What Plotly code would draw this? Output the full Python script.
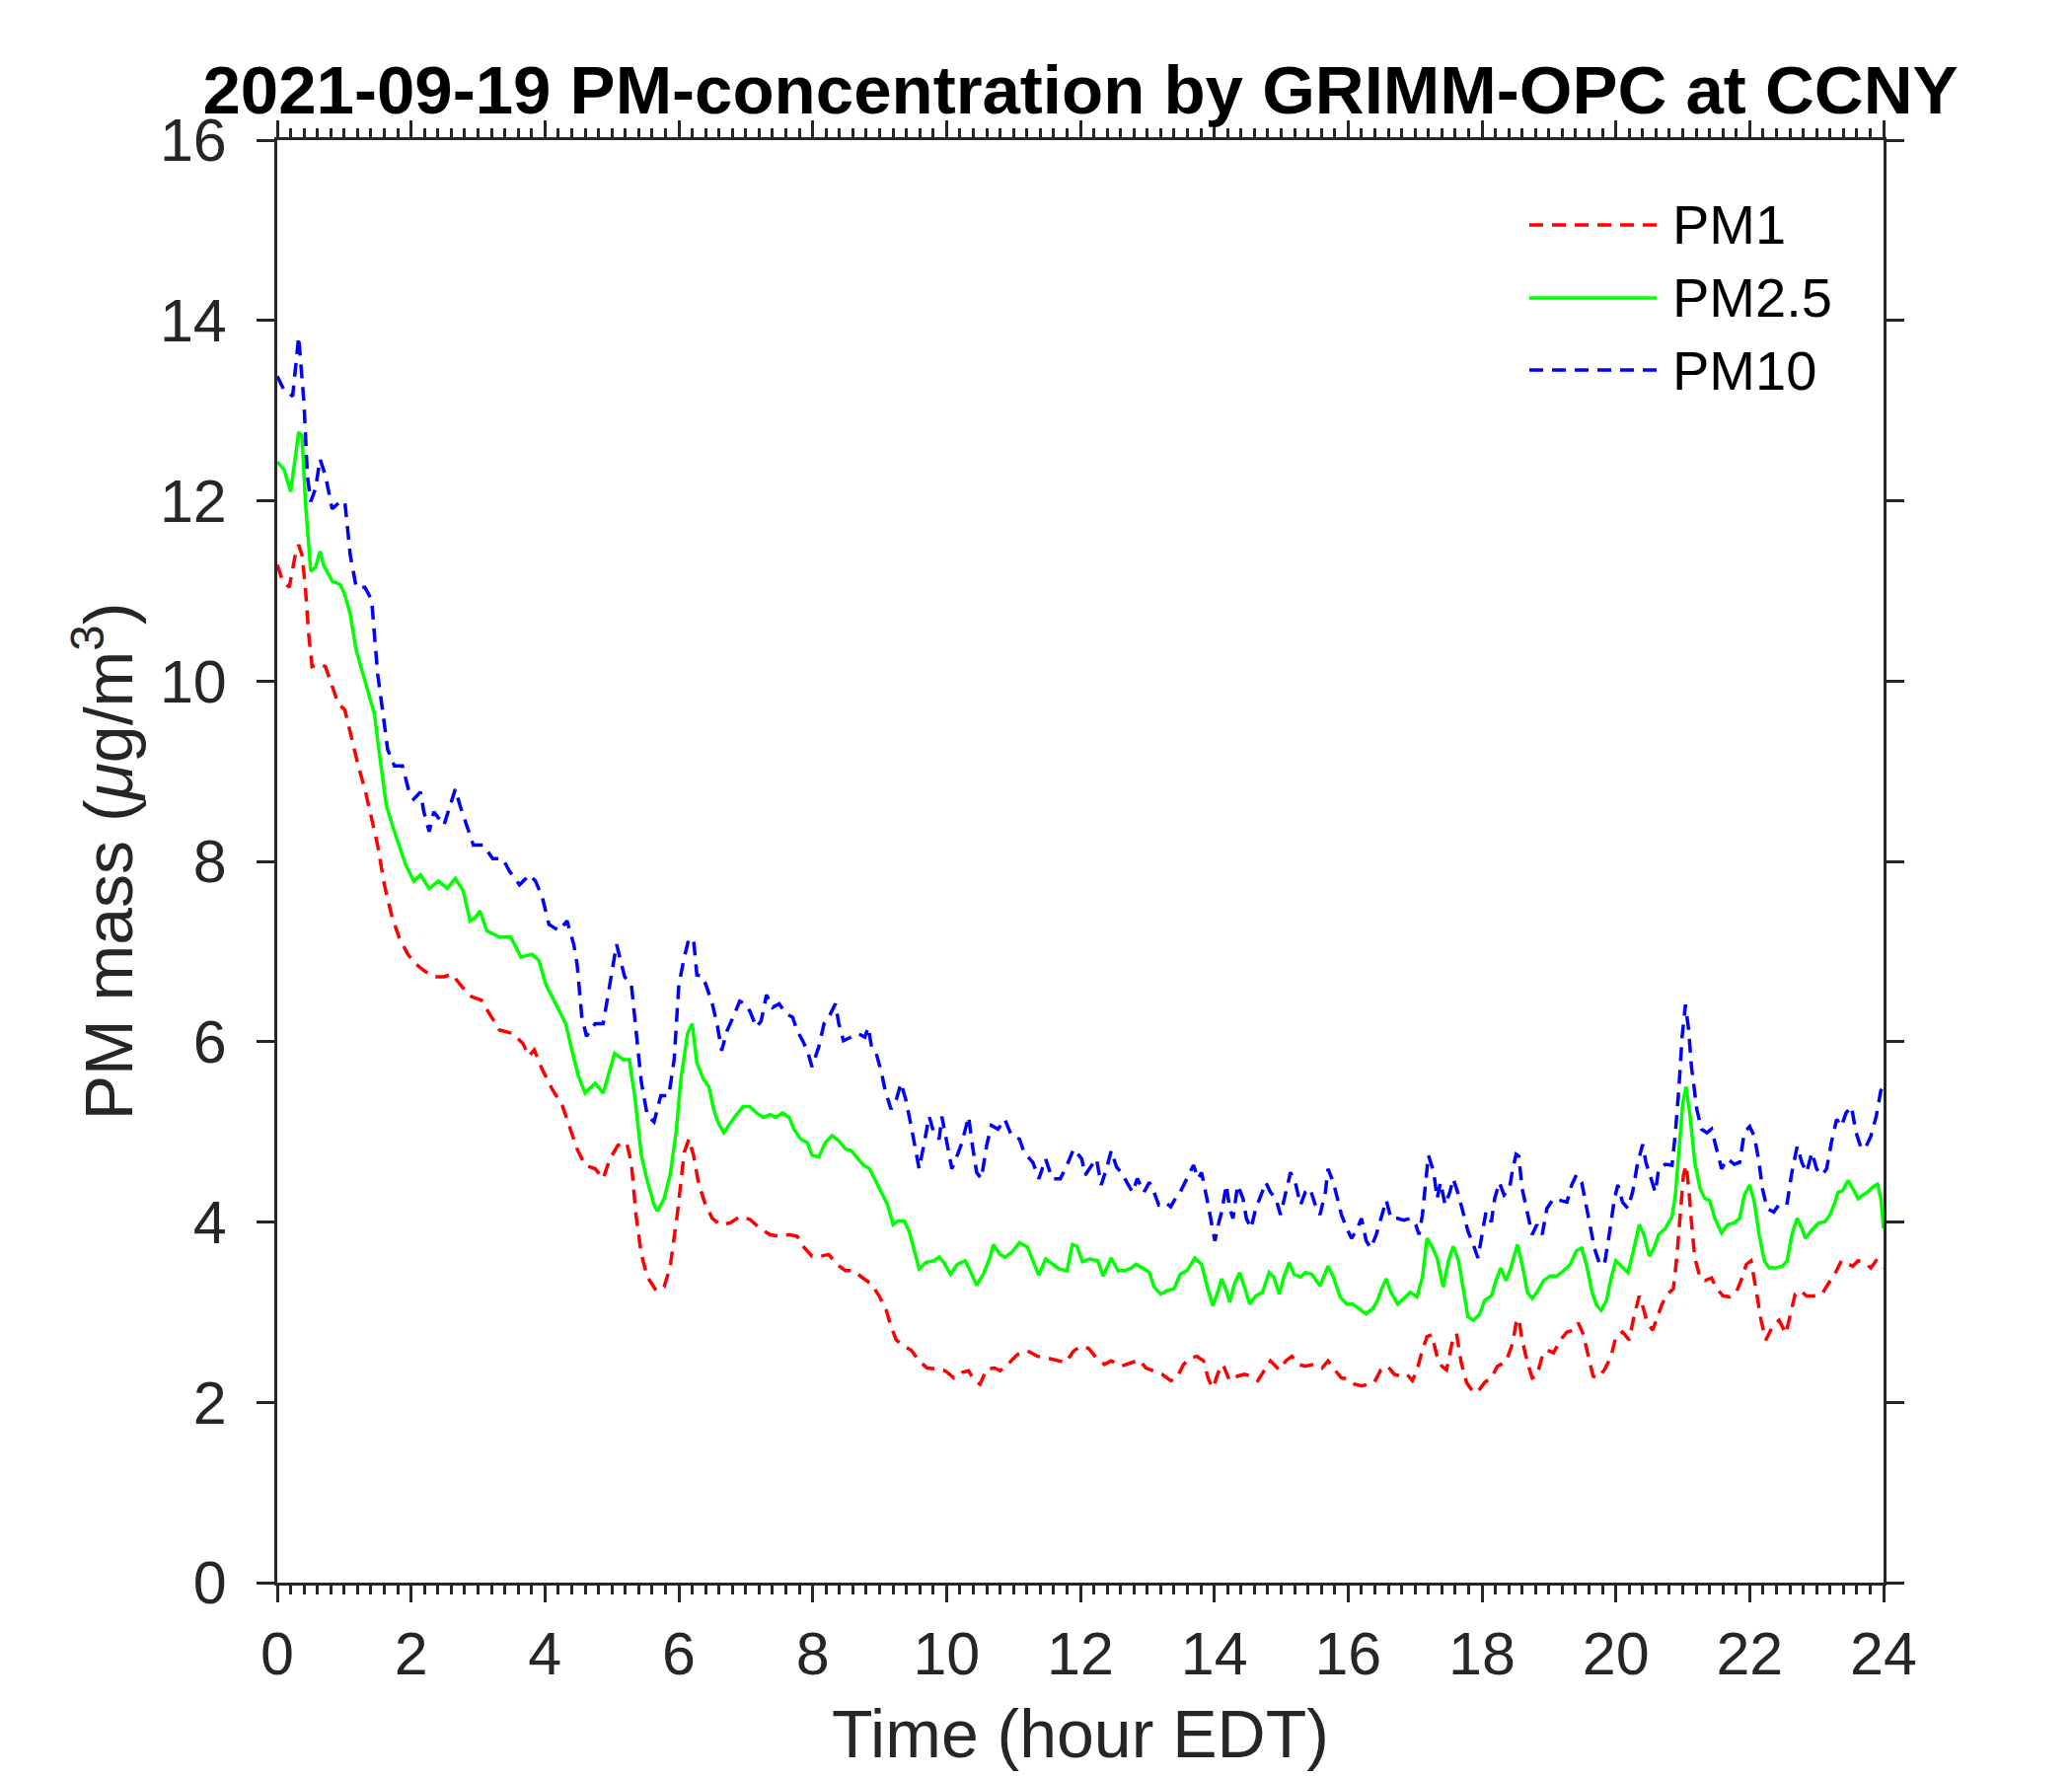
import plotly.graph_objects as go

# ---------------- data (hours EDT, ug/m3) ----------------
pm1_t = [0, 0.08, 0.18, 0.28, 0.32, 0.37, 0.42, 0.47, 0.52, 0.62, 0.72, 0.82, 0.91, 1.01, 1.11, 1.21, 1.31, 1.41, 1.5, 1.6,
         1.72, 1.82, 1.95, 2.07, 2.19, 2.34, 2.49, 2.61, 2.76, 2.9, 3.05, 3.17, 3.32, 3.52, 3.67, 3.76, 3.84, 3.96, 4.11, 4.26,
         4.38, 4.48, 4.6, 4.75, 4.87, 4.97, 5.09, 5.22, 5.29, 5.36, 5.44, 5.53, 5.66, 5.78, 5.87, 5.98, 6.08, 6.15, 6.22, 6.3,
         6.4, 6.5, 6.62, 6.77, 6.91, 7.06, 7.21, 7.36, 7.5, 7.65, 7.77, 7.87, 7.99, 8.12, 8.24, 8.36, 8.49, 8.61, 8.73, 8.88,
         9.0, 9.1, 9.17, 9.25, 9.37, 9.47, 9.59, 9.71, 9.86, 9.98, 10.11, 10.23, 10.33, 10.4, 10.5, 10.6, 10.72, 10.8, 10.94, 11.06,
         11.21, 11.36, 11.51, 11.65, 11.78, 11.9, 12.0, 12.12, 12.22, 12.36, 12.46, 12.61, 12.76, 12.88, 12.98, 13.1, 13.22, 13.35, 13.44, 13.54,
         13.64, 13.74, 13.84, 13.91, 13.98, 14.06, 14.13, 14.23, 14.35, 14.45, 14.55, 14.65, 14.75, 14.84, 14.97, 15.07, 15.16, 15.26, 15.36, 15.48,
         15.61, 15.7, 15.8, 15.9, 16.0, 16.1, 16.2, 16.29, 16.39, 16.49, 16.59, 16.69, 16.79, 16.88, 16.96, 17.03, 17.11, 17.18, 17.25, 17.33,
         17.4, 17.47, 17.55, 17.62, 17.69, 17.77, 17.87, 17.94, 18.04, 18.14, 18.23, 18.36, 18.46, 18.51, 18.55, 18.6, 18.68, 18.75, 18.82, 18.9,
         18.97, 19.07, 19.17, 19.27, 19.37, 19.44, 19.51, 19.59, 19.66, 19.73, 19.83, 19.93, 20.0, 20.1, 20.2, 20.27, 20.35, 20.42, 20.47, 20.55,
         20.62, 20.69, 20.77, 20.86, 20.91, 20.96, 21.01, 21.05, 21.09, 21.13, 21.18, 21.26, 21.33, 21.43, 21.5, 21.6, 21.7, 21.8, 21.87, 21.95,
         22.02, 22.09, 22.17, 22.24, 22.34, 22.44, 22.54, 22.61, 22.68, 22.76, 22.85, 22.95, 23.08, 23.17, 23.27, 23.37, 23.47, 23.54, 23.62, 23.71,
         23.81, 23.89, 23.96, 24.0]
pm1_v = [11.29, 11.11, 11.04, 11.44, 11.51, 11.4, 11.04, 10.52, 10.16, 10.19, 10.16, 9.94, 9.75, 9.68, 9.35, 9.06, 8.8, 8.47, 8.18, 7.74,
         7.37, 7.16, 6.97, 6.86, 6.79, 6.72, 6.72, 6.75, 6.61, 6.5, 6.46, 6.31, 6.13, 6.09, 5.98, 5.84, 5.91, 5.69, 5.47, 5.29,
         5.03, 4.81, 4.63, 4.59, 4.48, 4.7, 4.85, 4.88, 4.66, 4.08, 3.64, 3.39, 3.24, 3.28, 3.5, 4.1, 4.77, 4.92, 4.74, 4.41,
         4.19, 4.04, 3.97, 3.99, 4.06, 4.03, 3.93, 3.86, 3.84, 3.86, 3.84, 3.72, 3.62, 3.62, 3.64, 3.53, 3.46, 3.46, 3.39, 3.31,
         3.17, 3.02, 2.84, 2.69, 2.62, 2.58, 2.46, 2.38, 2.37, 2.35, 2.27, 2.33, 2.35, 2.26, 2.2, 2.37, 2.38, 2.35, 2.44, 2.53,
         2.57, 2.51, 2.49, 2.46, 2.44, 2.57, 2.62, 2.6, 2.51, 2.42, 2.46, 2.4, 2.44, 2.47, 2.38, 2.35, 2.31, 2.24, 2.27, 2.42,
         2.49, 2.51, 2.46, 2.26, 2.16, 2.33, 2.42, 2.24, 2.29, 2.31, 2.29, 2.24, 2.35, 2.46, 2.36, 2.46, 2.51, 2.42, 2.4, 2.42,
         2.38, 2.46, 2.36, 2.27, 2.26, 2.2, 2.18, 2.2, 2.22, 2.36, 2.4, 2.31, 2.29, 2.31, 2.24, 2.36, 2.58, 2.73, 2.75, 2.51,
         2.4, 2.36, 2.65, 2.76, 2.44, 2.22, 2.11, 2.12, 2.22, 2.27, 2.4, 2.45, 2.66, 2.88, 2.93, 2.69, 2.44, 2.27, 2.29, 2.51,
         2.58, 2.55, 2.69, 2.78, 2.8, 2.88, 2.76, 2.51, 2.29, 2.27, 2.36, 2.51, 2.73, 2.78, 2.69, 2.95, 3.18, 3.02, 2.88, 2.8,
         2.95, 3.09, 3.2, 3.26, 3.6, 4.08, 4.52, 4.63, 4.37, 4.0, 3.6, 3.38, 3.35, 3.38, 3.27, 3.18, 3.17, 3.22, 3.35, 3.53,
         3.57, 3.27, 2.91, 2.69, 2.84, 2.91, 2.76, 2.98, 3.2, 3.24, 3.18, 3.18, 3.2, 3.31, 3.42, 3.57, 3.53, 3.51, 3.57, 3.55,
         3.49, 3.57, 3.53, 3.49]

pm25_t = [0, 0.1, 0.2, 0.32, 0.37, 0.42, 0.5, 0.57, 0.64, 0.69, 0.82, 0.94, 1.01, 1.09, 1.18, 1.28, 1.36, 1.45, 1.55, 1.63,
          1.72, 1.82, 1.92, 2.04, 2.14, 2.27, 2.41, 2.54, 2.66, 2.78, 2.88, 2.95, 3.03, 3.13, 3.32, 3.49, 3.64, 3.81, 3.91, 4.01,
          4.16, 4.31, 4.4, 4.5, 4.6, 4.75, 4.87, 4.94, 5.04, 5.17, 5.26, 5.34, 5.44, 5.53, 5.63, 5.68, 5.78, 5.87, 5.96, 6.03,
          6.13, 6.2, 6.27, 6.37, 6.45, 6.52, 6.59, 6.67, 6.77, 6.84, 6.96, 7.06, 7.16, 7.26, 7.36, 7.45, 7.55, 7.65, 7.72, 7.82,
          7.92, 7.99, 8.09, 8.19, 8.29, 8.39, 8.49, 8.58, 8.68, 8.76, 8.85, 8.95, 9.05, 9.12, 9.2, 9.27, 9.37, 9.44, 9.52, 9.59,
          9.69, 9.81, 9.89, 9.96, 10.06, 10.16, 10.28, 10.35, 10.45, 10.55, 10.65, 10.7, 10.8, 10.87, 10.97, 11.09, 11.21, 11.31, 11.38, 11.48,
          11.58, 11.68, 11.8, 11.88, 11.95, 12.03, 12.14, 12.26, 12.34, 12.39, 12.46, 12.56, 12.66, 12.76, 12.83, 12.93, 13.03, 13.1, 13.2, 13.3,
          13.4, 13.49, 13.59, 13.71, 13.81, 13.91, 13.98, 14.06, 14.11, 14.18, 14.23, 14.3, 14.38, 14.45, 14.53, 14.62, 14.72, 14.82, 14.89, 14.97,
          15.04, 15.12, 15.19, 15.29, 15.36, 15.46, 15.58, 15.7, 15.78, 15.88, 15.98, 16.07, 16.17, 16.27, 16.37, 16.44, 16.49, 16.57, 16.64, 16.74,
          16.83, 16.93, 17.03, 17.11, 17.18, 17.25, 17.33, 17.42, 17.5, 17.57, 17.65, 17.72, 17.79, 17.87, 17.96, 18.04, 18.14, 18.21, 18.28, 18.36,
          18.43, 18.53, 18.6, 18.68, 18.75, 18.82, 18.92, 19.02, 19.12, 19.22, 19.32, 19.41, 19.49, 19.56, 19.64, 19.71, 19.78, 19.86, 19.93, 20.0,
          20.1, 20.18, 20.25, 20.35, 20.42, 20.5, 20.57, 20.64, 20.74, 20.84, 20.89, 20.94, 21.0, 21.05, 21.11, 21.18, 21.26, 21.33, 21.4, 21.48,
          21.58, 21.67, 21.77, 21.85, 21.92, 22.0, 22.07, 22.14, 22.22, 22.29, 22.39, 22.49, 22.56, 22.63, 22.71, 22.78, 22.83, 22.93, 23.03, 23.12,
          23.2, 23.27, 23.32, 23.39, 23.47, 23.54, 23.62, 23.69, 23.76, 23.84, 23.91, 23.96, 24.0]
pm25_v = [12.43, 12.35, 12.1, 12.76, 12.72, 11.99, 11.22, 11.26, 11.44, 11.29, 11.11, 11.07, 10.96, 10.74, 10.34, 10.08, 9.9, 9.64, 9.06, 8.62,
          8.4, 8.18, 7.96, 7.78, 7.85, 7.7, 7.78, 7.7, 7.81, 7.67, 7.34, 7.37, 7.45, 7.23, 7.16, 7.16, 6.94, 6.97, 6.9, 6.64,
          6.42, 6.2, 5.91, 5.62, 5.43, 5.54, 5.43, 5.62, 5.87, 5.8, 5.8, 5.4, 4.74, 4.45, 4.19, 4.12, 4.26, 4.52, 5.0, 5.58,
          6.09, 6.2, 5.76, 5.58, 5.5, 5.25, 5.1, 4.99, 5.1, 5.17, 5.28, 5.28, 5.21, 5.16, 5.19, 5.16, 5.21, 5.16, 5.03, 4.92,
          4.88, 4.74, 4.72, 4.88, 4.96, 4.9, 4.81, 4.79, 4.7, 4.63, 4.59, 4.44, 4.3, 4.19, 3.97, 4.01, 4.01, 3.9, 3.68, 3.48,
          3.55, 3.57, 3.61, 3.55, 3.42, 3.53, 3.57, 3.46, 3.3, 3.42, 3.61, 3.75, 3.64, 3.61, 3.66, 3.77, 3.72, 3.53, 3.41, 3.59,
          3.53, 3.48, 3.46, 3.75, 3.73, 3.56, 3.59, 3.57, 3.4, 3.49, 3.6, 3.46, 3.46, 3.49, 3.53, 3.49, 3.44, 3.28, 3.2, 3.24,
          3.26, 3.42, 3.46, 3.6, 3.53, 3.24, 3.07, 3.24, 3.37, 3.24, 3.11, 3.31, 3.44, 3.28, 3.09, 3.18, 3.22, 3.44, 3.39, 3.2,
          3.39, 3.55, 3.42, 3.39, 3.44, 3.42, 3.29, 3.51, 3.39, 3.17, 3.09, 3.09, 3.04, 2.98, 3.04, 3.13, 3.24, 3.37, 3.22, 3.09,
          3.15, 3.22, 3.17, 3.39, 3.82, 3.73, 3.6, 3.28, 3.57, 3.73, 3.57, 3.24, 2.95, 2.91, 2.97, 3.13, 3.18, 3.35, 3.49, 3.35,
          3.49, 3.75, 3.53, 3.22, 3.15, 3.22, 3.35, 3.4, 3.4, 3.46, 3.53, 3.68, 3.71, 3.53, 3.24, 3.08, 3.02, 3.13, 3.38, 3.57,
          3.49, 3.44, 3.64, 3.97, 3.86, 3.62, 3.71, 3.86, 3.93, 4.06, 4.3, 4.81, 5.32, 5.5, 5.17, 4.66, 4.37, 4.26, 4.24, 4.04,
          3.88, 3.97, 3.99, 4.04, 4.3, 4.41, 4.22, 3.86, 3.57, 3.49, 3.49, 3.51, 3.57, 3.86, 4.04, 3.93, 3.82, 3.91, 3.99, 4.0,
          4.08, 4.21, 4.33, 4.35, 4.46, 4.37, 4.26, 4.3, 4.33, 4.39, 4.42, 4.26, 3.93]

pm10_t = [0, 0.1, 0.23, 0.32, 0.4, 0.45, 0.5, 0.57, 0.64, 0.72, 0.82, 0.94, 1.01, 1.09, 1.18, 1.31, 1.41, 1.5, 1.58, 1.65,
          1.75, 1.87, 1.97, 2.04, 2.14, 2.19, 2.27, 2.34, 2.49, 2.58, 2.66, 2.73, 2.83, 2.93, 3.08, 3.22, 3.37, 3.47, 3.62, 3.77,
          3.86, 3.96, 4.06, 4.21, 4.33, 4.43, 4.48, 4.55, 4.62, 4.75, 4.87, 4.94, 5.07, 5.19, 5.29, 5.36, 5.44, 5.53, 5.63, 5.73,
          5.85, 5.93, 6.0, 6.08, 6.15, 6.22, 6.27, 6.35, 6.42, 6.5, 6.57, 6.64, 6.72, 6.81, 6.91, 6.99, 7.06, 7.16, 7.23, 7.31,
          7.4, 7.5, 7.6, 7.7, 7.77, 7.85, 7.92, 7.99, 8.09, 8.17, 8.24, 8.34, 8.39, 8.46, 8.56, 8.68, 8.78, 8.83, 8.88, 8.95,
          9.03, 9.08, 9.17, 9.25, 9.32, 9.39, 9.47, 9.52, 9.59, 9.66, 9.74, 9.81, 9.89, 9.93, 10.01, 10.08, 10.16, 10.23, 10.33, 10.38,
          10.45, 10.52, 10.6, 10.67, 10.77, 10.87, 10.97, 11.09, 11.16, 11.29, 11.38, 11.48, 11.58, 11.7, 11.8, 11.9, 12.02, 12.07, 12.17, 12.24,
          12.31, 12.39, 12.46, 12.54, 12.61, 12.71, 12.78, 12.85, 12.95, 13.03, 13.1, 13.17, 13.27, 13.35, 13.42, 13.49, 13.59, 13.69, 13.76, 13.81,
          13.89, 13.96, 14.01, 14.06, 14.11, 14.18, 14.23, 14.28, 14.35, 14.43, 14.48, 14.55, 14.62, 14.7, 14.77, 14.84, 14.92, 14.99, 15.07, 15.14,
          15.21, 15.29, 15.36, 15.43, 15.51, 15.58, 15.66, 15.7, 15.78, 15.85, 15.9, 15.98, 16.05, 16.12, 16.2, 16.27, 16.34, 16.42, 16.49, 16.57,
          16.64, 16.74, 16.83, 16.93, 17.01, 17.06, 17.11, 17.15, 17.2, 17.28, 17.33, 17.38, 17.45, 17.52, 17.57, 17.65, 17.72, 17.79, 17.87, 17.94,
          18.01, 18.06, 18.14, 18.19, 18.26, 18.33, 18.41, 18.46, 18.51, 18.55, 18.6, 18.68, 18.75, 18.82, 18.9, 18.97, 19.07, 19.17, 19.27, 19.34,
          19.41, 19.49, 19.54, 19.61, 19.68, 19.76, 19.83, 19.91, 19.98, 20.03, 20.1, 20.18, 20.25, 20.32, 20.4, 20.45, 20.52, 20.59, 20.64, 20.74,
          20.84, 20.89, 20.94, 20.99, 21.04, 21.09, 21.13, 21.21, 21.28, 21.36, 21.43, 21.5, 21.58, 21.67, 21.77, 21.85, 21.92, 22.0, 22.07, 22.14,
          22.19, 22.26, 22.36, 22.46, 22.56, 22.63, 22.71, 22.78, 22.85, 22.93, 23.0, 23.08, 23.15, 23.22, 23.3, 23.37, 23.44, 23.52, 23.59, 23.67,
          23.74, 23.81, 23.89, 23.96, 24.0]
pm10_v = [13.38, 13.23, 13.16, 13.82, 13.08, 12.28, 11.99, 12.13, 12.46, 12.28, 11.91, 11.99, 11.99, 11.4, 11.04, 11.04, 10.9, 10.08, 9.64, 9.24,
          9.06, 9.06, 8.77, 8.69, 8.77, 8.55, 8.33, 8.55, 8.4, 8.62, 8.8, 8.62, 8.4, 8.18, 8.18, 8.03, 8.03, 7.89, 7.74, 7.85,
          7.78, 7.6, 7.3, 7.23, 7.34, 7.08, 6.86, 6.28, 6.06, 6.2, 6.2, 6.5, 7.08, 6.72, 6.64, 6.13, 5.55, 5.18, 5.11, 5.4,
          5.4, 5.8, 6.63, 6.93, 7.14, 7.13, 6.74, 6.73, 6.6, 6.42, 6.2, 5.9, 6.12, 6.27, 6.45, 6.42, 6.34, 6.16, 6.23, 6.52,
          6.38, 6.42, 6.31, 6.27, 6.12, 6.01, 5.9, 5.72, 5.94, 6.2, 6.27, 6.42, 6.2, 6.01, 6.05, 6.09, 6.05, 6.16, 5.94, 5.87,
          5.65, 5.47, 5.25, 5.36, 5.54, 5.36, 5.07, 4.85, 4.59, 4.85, 5.17, 4.99, 4.92, 5.17, 4.88, 4.59, 4.74, 4.88, 5.17, 4.88,
          4.55, 4.48, 4.85, 5.07, 5.03, 5.14, 4.96, 4.92, 4.77, 4.66, 4.48, 4.7, 4.48, 4.48, 4.63, 4.81, 4.7, 4.52, 4.63, 4.7,
          4.41, 4.59, 4.79, 4.61, 4.55, 4.41, 4.33, 4.48, 4.33, 4.44, 4.33, 4.19, 4.22, 4.17, 4.26, 4.33, 4.48, 4.63, 4.48, 4.55,
          4.26, 4.0, 3.79, 3.97, 4.11, 4.41, 4.15, 4.04, 4.41, 4.26, 4.04, 3.93, 4.15, 4.3, 4.44, 4.33, 4.26, 4.08, 4.33, 4.55,
          4.44, 4.19, 4.33, 4.37, 4.19, 4.08, 4.33, 4.59, 4.44, 4.22, 4.08, 3.93, 3.82, 3.9, 4.04, 3.79, 3.71, 3.86, 4.04, 4.24,
          4.04, 4.04, 4.02, 4.04, 3.97, 3.86, 4.08, 4.41, 4.74, 4.55, 4.26, 4.44, 4.19, 4.33, 4.48, 4.3, 4.08, 3.9, 3.75, 3.6,
          3.9, 4.11, 4.0, 4.26, 4.44, 4.3, 4.37, 4.59, 4.75, 4.73, 4.37, 4.08, 3.86, 3.97, 3.86, 4.15, 4.26, 4.24, 4.22, 4.41,
          4.52, 4.44, 4.26, 4.0, 3.71, 3.53, 3.53, 3.9, 4.26, 4.41, 4.22, 4.15, 4.33, 4.63, 4.86, 4.66, 4.48, 4.33, 4.59, 4.64,
          4.63, 4.99, 5.46, 6.05, 6.41, 6.12, 5.72, 5.25, 5.03, 4.99, 5.03, 4.84, 4.59, 4.7, 4.64, 4.66, 4.99, 5.06, 4.95, 4.66,
          4.37, 4.15, 4.11, 4.22, 4.21, 4.55, 4.84, 4.66, 4.55, 4.77, 4.59, 4.52, 4.59, 4.88, 5.14, 5.06, 5.21, 5.28, 4.99, 4.81,
          4.84, 4.95, 5.17, 5.46, 5.5]

series_names = ["PM1", "PM2.5", "PM10"]
series_colors = ["#FF0000", "#00FF00", "#0000FF"]
series_dash = ["14px,9px", "solid", "14px,9px"]

x_ticks = list(range(0, 25, 2))
y_ticks = list(range(0, 17, 2))

title_text = "2021-09-19 PM-concentration by GRIMM-OPC at CCNY"
x_title = "Time (hour EDT)"
y_title = "PM mass (<i>μ</i>g/m<sup>3</sup>)"

# ---------------- figure ----------------
FONT = "Liberation Sans, Arial, Helvetica, sans-serif"
AX = "#262626"

fig = go.Figure()
for (t, v), name, col, dash in zip([(pm1_t, pm1_v), (pm25_t, pm25_v), (pm10_t, pm10_v)],
                                   series_names, series_colors, series_dash):
    fig.add_trace(go.Scatter(x=t, y=v, mode="lines", name=name,
                             line=dict(color=col, width=3.5, dash=dash), showlegend=False))

# legend drawn as line samples + labels (MATLAB-like long samples, no box)
leg_y = [0.9412, 0.8906, 0.8406]
for name, col, dash, yy in zip(series_names, series_colors, series_dash, leg_y):
    fig.add_shape(type="line", xref="paper", yref="paper", x0=0.7795, x1=0.8587, y0=yy, y1=yy,
                  line=dict(color=col, width=3.5, dash=dash))
    fig.add_annotation(xref="paper", yref="paper", x=0.8673, y=yy, text=name, showarrow=False,
                       xanchor="left", yanchor="middle", font=dict(family=FONT, size=56, color="#000000"))

fig.update_layout(
    width=2100, height=1800,
    paper_bgcolor="white", plot_bgcolor="white",
    margin=dict(l=273, r=199, t=134, b=204, autoexpand=False),
    font=dict(family=FONT, color=AX),
    title=dict(text=title_text, x=0.5, xref="paper", xanchor="center",
               y=1 - 107 / 1800, yref="container", yanchor="bottom",
               font=dict(family=FONT, size=69, color="#000000", weight="bold")),
)

fig.update_xaxes(
    range=[0, 24], tickvals=x_ticks, ticktext=[str(v) for v in x_ticks],
    showgrid=False, zeroline=False,
    showline=True, linecolor=AX, linewidth=3, mirror="allticks",
    ticks="outside", ticklen=17, tickwidth=3, tickcolor=AX,
    minor=dict(dtick=0.2, ticks="outside", ticklen=9, tickwidth=3, tickcolor=AX, showgrid=False),
    tickfont=dict(family=FONT, size=61, color=AX), ticklabelstandoff=0,
    title=dict(text=x_title, font=dict(family=FONT, size=68, color=AX), standoff=25),
)
fig.update_yaxes(
    range=[0, 16], tickvals=y_ticks, ticktext=[str(v) for v in y_ticks],
    showgrid=False, zeroline=False,
    showline=True, linecolor=AX, linewidth=3, mirror="allticks",
    ticks="outside", ticklen=18, tickwidth=3, tickcolor=AX,
    tickfont=dict(family=FONT, size=61, color=AX), ticklabelstandoff=18,
    title=dict(text=y_title, font=dict(family=FONT, size=68, color=AX), standoff=6),
)

fig.write_html("out.html")
